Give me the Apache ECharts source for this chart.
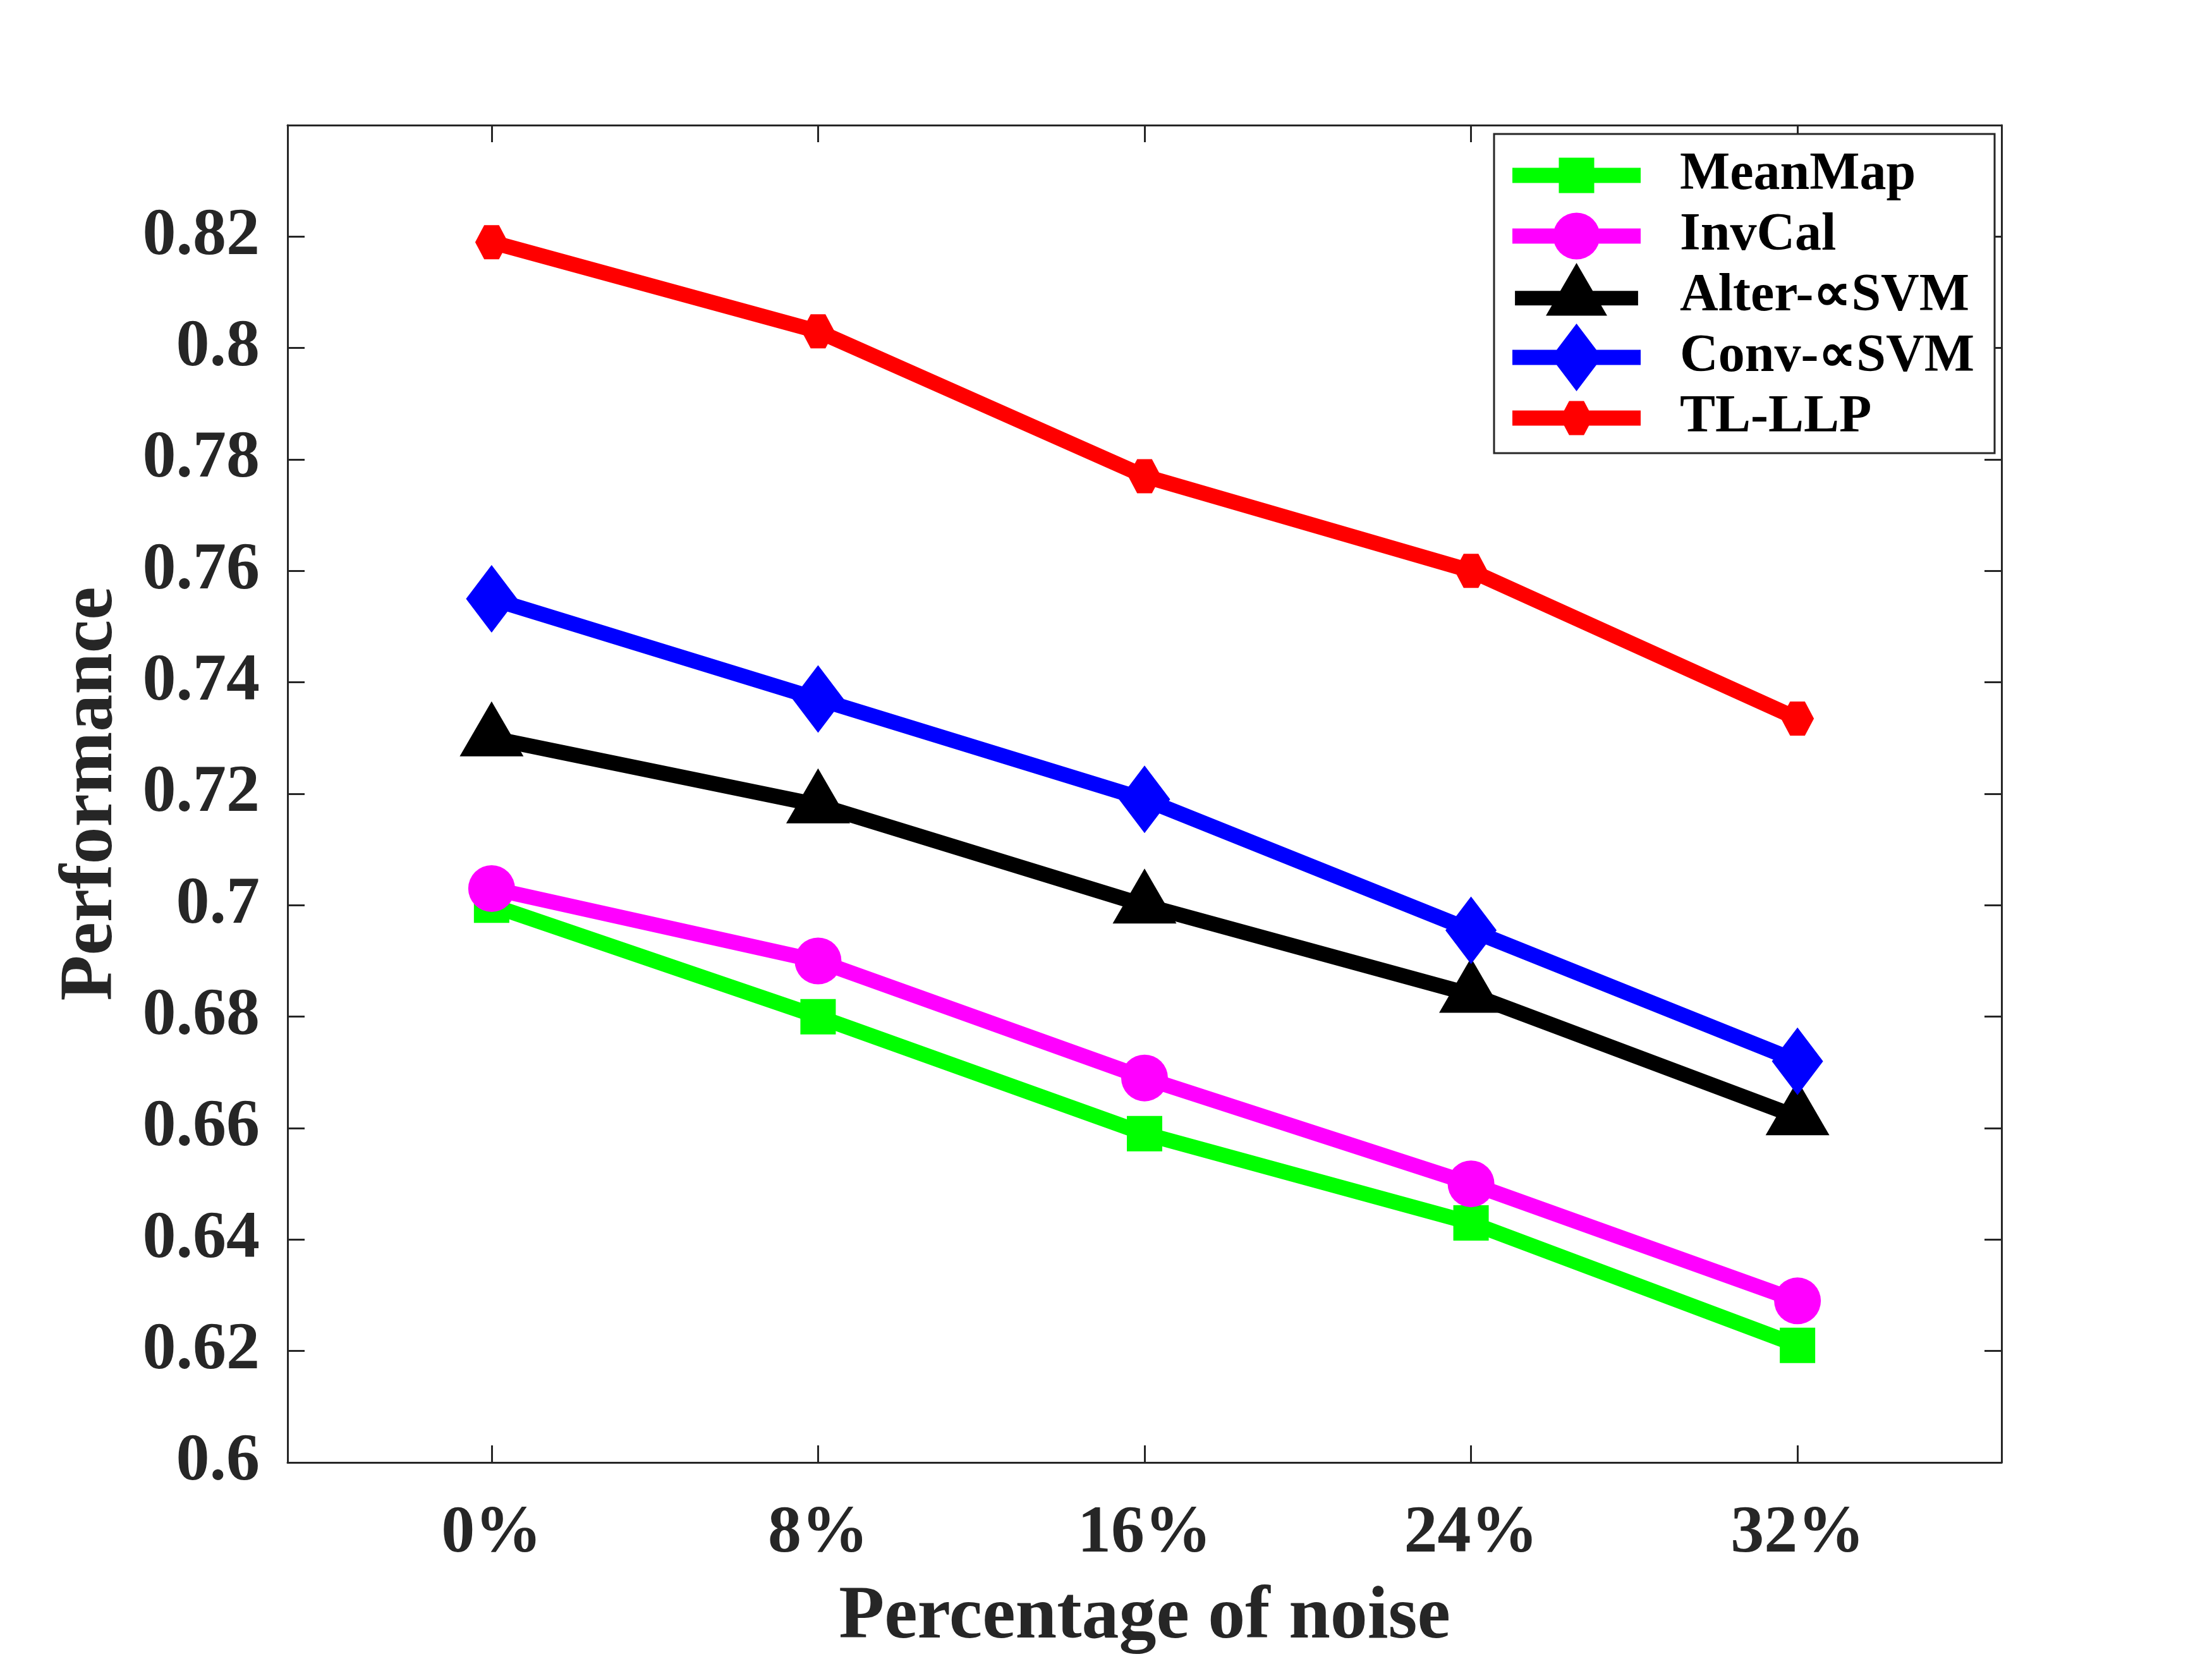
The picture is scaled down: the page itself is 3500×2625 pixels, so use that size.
<!DOCTYPE html>
<html>
<head>
<meta charset="utf-8">
<script src="https://cdn.jsdelivr.net/npm/echarts@6/dist/echarts.min.js"></script>
<style>html,body{margin:0;padding:0;background:#fff;}#c{width:3500px;height:2625px;}</style>
</head>
<body>
<div id="c"></div>
<script>
// ---- data ----
const noiseLevels = [0, 8, 16, 24, 32];
const xTickLabels = ['0%', '8%', '16%', '24%', '32%'];
const yTickValues = [0.6, 0.62, 0.64, 0.66, 0.68, 0.7, 0.72, 0.74, 0.76, 0.78, 0.8, 0.82];
const seriesNames = ['MeanMap', 'InvCal', 'Alter-\u221DSVM', 'Conv-\u221DSVM', 'TL-LLP'];
const meanMap = [0.700, 0.680, 0.659, 0.643, 0.621];
const invCal  = [0.703, 0.690, 0.669, 0.650, 0.629];
const alterSVM = [0.730, 0.718, 0.700, 0.684, 0.662];
const convSVM  = [0.755, 0.737, 0.719, 0.6955, 0.672];
const tlLLP    = [0.819, 0.803, 0.777, 0.760, 0.7335];

const FONT = "'Liberation Serif','Times New Roman',serif";
const AX = '#262626';
const colors = ['#00ff00', '#ff00ff', '#000000', '#0000ff', '#ff0000'];
const values = [meanMap, invCal, alterSVM, convSVM, tlLLP];

// marker shapes
const hexPath = 'path://M-1,0 L-0.45,-1 L0.45,-1 L1,0 L0.45,1 L-0.45,1 Z';
const symbols = ['rect', 'circle', 'triangle', 'diamond', hexPath];
const symbolSizes = [56, 74, [101, 87], [81, 107], [52, 54]];
const symbolOffsets = [[0, 0], [0, 0], [0, -14.5], [0, 0], [0, 0]];

// legend icons: line + marker in a 203 x 107 frame, line centred at 53.5
const LW = 203, LH = 107, cx = 101.5, cy = 53.5, lt = 12;
function lineBar() {
  return 'M0,0 M' + LW + ',' + LH + ' M0,' + (cy - lt) + ' L' + LW + ',' + (cy - lt) + ' L' + LW + ',' + (cy + lt) + ' L0,' + (cy + lt) + ' Z ';
}
function iconSquare(s) {
  const h = s / 2;
  return 'path://' + lineBar() + 'M' + (cx - h) + ',' + (cy - h) + ' L' + (cx + h) + ',' + (cy - h) + ' L' + (cx + h) + ',' + (cy + h) + ' L' + (cx - h) + ',' + (cy + h) + ' Z';
}
function iconCircle(d) {
  const r = d / 2;
  return 'path://' + lineBar() + 'M' + (cx - r) + ',' + cy + ' A' + r + ',' + r + ' 0 1 1 ' + (cx + r) + ',' + cy + ' A' + r + ',' + r + ' 0 1 1 ' + (cx - r) + ',' + cy + ' Z';
}
function iconTriangle(w, h) {
  const top = cy - h * 2 / 3, bot = cy + h / 3;
  return 'path://' + lineBar() + 'M' + cx + ',' + top + ' L' + (cx + w / 2) + ',' + bot + ' L' + (cx - w / 2) + ',' + bot + ' Z';
}
function iconDiamond(w, h) {
  return 'path://' + lineBar() + 'M' + cx + ',' + (cy - h / 2) + ' L' + (cx + w / 2) + ',' + cy + ' L' + cx + ',' + (cy + h / 2) + ' L' + (cx - w / 2) + ',' + cy + ' Z';
}
function iconHex(w, h) {
  const a = w / 2, b = h / 2, k = 0.45 * a;
  return 'path://' + lineBar() + 'M' + (cx - a) + ',' + cy + ' L' + (cx - k) + ',' + (cy - b) + ' L' + (cx + k) + ',' + (cy - b) + ' L' + (cx + a) + ',' + cy + ' L' + (cx + k) + ',' + (cy + b) + ' L' + (cx - k) + ',' + (cy + b) + ' Z';
}
const legendIcons = [iconSquare(56), iconCircle(74), iconTriangle(101, 87), iconDiamond(81, 107), iconHex(52, 54)];

const series = seriesNames.map((name, i) => ({
  name: name,
  type: 'line',
  data: noiseLevels.map((x, j) => [x, values[i][j]]),
  symbol: symbols[i],
  symbolSize: symbolSizes[i],
  symbolOffset: symbolOffsets[i],
  showAllSymbol: true,
  lineStyle: { color: colors[i], width: 24, cap: 'butt', join: 'miter' },
  itemStyle: { color: colors[i], opacity: 1 },
  emphasis: { disabled: true },
  animation: false
}));

const labelFont = { fontFamily: FONT, fontWeight: 'bold', fontSize: 106, color: AX };

const chart = echarts.init(document.getElementById('c'), null, { renderer: 'canvas' });
chart.setOption({
  backgroundColor: '#ffffff',
  animation: false,
  grid: { left: 455, right: 333, top: 198, bottom: 304, containLabel: false },
  xAxis: [{
    type: 'value', min: -5, max: 37,
    position: 'bottom',
    axisLine: { show: true, onZero: false, lineStyle: { color: AX, width: 3 } },
    axisTick: { show: true, inside: true, length: 27, customValues: noiseLevels, lineStyle: { color: AX, width: 3 } },
    axisLabel: Object.assign({ margin: 61, customValues: noiseLevels, formatter: v => xTickLabels[noiseLevels.indexOf(v)] }, labelFont),
    splitLine: { show: false },
    name: 'Percentage of noise', nameLocation: 'middle', nameGap: 188,
    nameTextStyle: { fontFamily: FONT, fontWeight: 'bold', fontSize: 118, color: AX }
  }, {
    type: 'value', min: -5, max: 37,
    position: 'top',
    axisLine: { show: true, onZero: false, lineStyle: { color: AX, width: 3 } },
    axisTick: { show: true, inside: true, length: 27, customValues: noiseLevels, lineStyle: { color: AX, width: 3 } },
    axisLabel: { show: false },
    splitLine: { show: false }
  }],
  yAxis: [{
    type: 'value', min: 0.6, max: 0.84, interval: 0.02,
    position: 'left',
    axisLine: { show: true, onZero: false, lineStyle: { color: AX, width: 3 } },
    axisTick: { show: true, inside: true, length: 27, lineStyle: { color: AX, width: 3 } },
    axisLabel: Object.assign({ margin: 44, formatter: v => {
      const r = Math.round(v * 100) / 100;
      const idx = yTickValues.findIndex(t => Math.abs(t - r) < 1e-9);
      return idx >= 0 ? String(yTickValues[idx]) : '';
    } }, labelFont),
    splitLine: { show: false },
    name: 'Performance', nameLocation: 'middle', nameGap: 250,
    nameTextStyle: { fontFamily: FONT, fontWeight: 'bold', fontSize: 118, color: AX }
  }, {
    type: 'value', min: 0.6, max: 0.84, interval: 0.02,
    position: 'right',
    axisLine: { show: true, onZero: false, lineStyle: { color: AX, width: 3 } },
    axisTick: { show: true, inside: true, length: 27, lineStyle: { color: AX, width: 3 } },
    axisLabel: { show: false },
    splitLine: { show: false }
  }],
  legend: {
    orient: 'vertical',
    left: 2364, top: 212,
    itemWidth: LW, itemHeight: LH, itemGap: -11,
    padding: [12, 32, 2, 29],
    borderColor: AX, borderWidth: 3, backgroundColor: '#ffffff',
    symbolKeepAspect: true,
    selectedMode: false,
    textStyle: { fontFamily: FONT, fontWeight: 'bold', fontSize: 84, color: '#000', padding: [0, 0, 0, 57] },
    data: seriesNames.map((n, i) => ({ name: n, icon: legendIcons[i], itemStyle: { color: colors[i] } }))
  },
  series: series
});
</script>
</body>
</html>
